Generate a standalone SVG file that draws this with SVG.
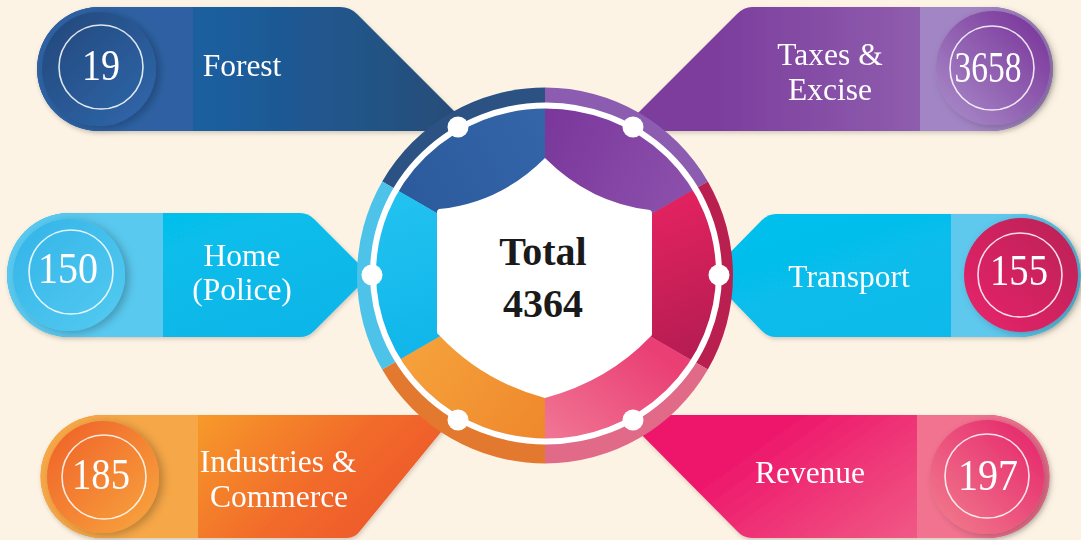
<svg xmlns="http://www.w3.org/2000/svg" width="1081" height="540" viewBox="0 0 1081 540">
<style>
.lbl{font-family:"Liberation Serif","Times New Roman",serif;font-size:31.5px;fill:#ffffff;text-anchor:middle}
.num{font-family:"Liberation Serif","Times New Roman",serif;font-size:44px;fill:#ffffff;text-anchor:middle}
.tot{font-family:"Liberation Serif","Times New Roman",serif;font-size:40px;font-weight:bold;fill:#1a1a1a;text-anchor:middle}
.ring{fill:none;stroke:#ffffff;stroke-width:1.6;opacity:0.85}
.dot{fill:#ffffff}
</style>
<defs>
<filter id="sh" x="-20%" y="-20%" width="140%" height="150%"><feDropShadow dx="1" dy="2" stdDeviation="2" flood-color="#000" flood-opacity="0.18"/></filter>
<filter id="bsh" x="-30%" y="-30%" width="160%" height="160%"><feDropShadow dx="4" dy="2" stdDeviation="4" flood-color="#000" flood-opacity="0.25"/></filter>
<linearGradient id="gF" x1="0" y1="0" x2="1" y2="0"><stop offset="0.4" stop-color="#1c5e9f"/><stop offset="1" stop-color="#274c75"/></linearGradient>
<linearGradient id="bF" x1="0" y1="0" x2="1" y2="1"><stop offset="0" stop-color="#22477a"/><stop offset="1" stop-color="#3068ad"/></linearGradient>
<linearGradient id="gH" x1="0" y1="0" x2="1" y2="1"><stop offset="0" stop-color="#04c3ec"/><stop offset="1" stop-color="#0cb4e8"/></linearGradient>
<linearGradient id="bH" x1="0" y1="0" x2="1" y2="1"><stop offset="0" stop-color="#32b4e8"/><stop offset="1" stop-color="#55cbf1"/></linearGradient>
<linearGradient id="gT" x1="0" y1="0" x2="1" y2="0"><stop offset="0.2" stop-color="#7b3c9c"/><stop offset="1" stop-color="#9b72b9"/></linearGradient>
<linearGradient id="bT" x1="1" y1="0" x2="0" y2="1"><stop offset="0" stop-color="#762f96"/><stop offset="1" stop-color="#ab8fcb"/></linearGradient>
<linearGradient id="gR" x1="0" y1="0" x2="1" y2="1"><stop offset="0" stop-color="#04c0ec"/><stop offset="1" stop-color="#0bb8ea"/></linearGradient>
<linearGradient id="bR" x1="1" y1="0" x2="0" y2="1"><stop offset="0" stop-color="#b91f55"/><stop offset="1" stop-color="#e8266b"/></linearGradient>
<linearGradient id="gI" x1="0" y1="0" x2="1" y2="0.3"><stop offset="0.3" stop-color="#f7a02a"/><stop offset="0.75" stop-color="#f26b2b"/><stop offset="1" stop-color="#ee5a2c"/></linearGradient>
<linearGradient id="bI" x1="0" y1="0" x2="1" y2="1"><stop offset="0" stop-color="#ef5f28"/><stop offset="1" stop-color="#f8a73e"/></linearGradient>
<linearGradient id="gV" x1="0" y1="0" x2="1" y2="0.4"><stop offset="0.35" stop-color="#ee176b"/><stop offset="1" stop-color="#f06088"/></linearGradient>
<linearGradient id="bV" x1="1" y1="0" x2="0" y2="1"><stop offset="0" stop-color="#e4216a"/><stop offset="1" stop-color="#f2808e"/></linearGradient>
<linearGradient id="iBlue" gradientUnits="userSpaceOnUse" x1="390" y1="200" x2="545" y2="120"><stop offset="0" stop-color="#2a5a9c"/><stop offset="1" stop-color="#3465a8"/></linearGradient>
<linearGradient id="iPur" gradientUnits="userSpaceOnUse" x1="545" y1="120" x2="700" y2="200"><stop offset="0" stop-color="#7b379b"/><stop offset="1" stop-color="#8d52ad"/></linearGradient>
<linearGradient id="iCri" gradientUnits="userSpaceOnUse" x1="655" y1="215" x2="715" y2="355"><stop offset="0" stop-color="#e0225f"/><stop offset="1" stop-color="#b31c51"/></linearGradient>
<linearGradient id="iPink" gradientUnits="userSpaceOnUse" x1="640" y1="340" x2="560" y2="440"><stop offset="0" stop-color="#ea3f75"/><stop offset="1" stop-color="#f07392"/></linearGradient>
<linearGradient id="iOr" gradientUnits="userSpaceOnUse" x1="420" y1="350" x2="540" y2="440"><stop offset="0" stop-color="#f5a03a"/><stop offset="1" stop-color="#ef882c"/></linearGradient>
<linearGradient id="iCy" gradientUnits="userSpaceOnUse" x1="380" y1="200" x2="430" y2="350"><stop offset="0" stop-color="#22c2f0"/><stop offset="1" stop-color="#10b6ea"/></linearGradient>
<clipPath id="inner"><ellipse cx="546" cy="273.5" rx="170" ry="165"/></clipPath>
</defs>
<rect x="0" y="0" width="1081" height="540" fill="#fdf3e4"/>

<g id="node-forest" filter="url(#sh)">
<path d="M99,7 H340 Q350,7 357,14 L474,131 H99 A62,62 0 0 1 99,7 Z" fill="url(#gF)"/>
<path d="M193,7 H99 A62,62 0 0 0 99,131 H193 Z" fill="#2e61a3"/>
<circle cx="99" cy="69" r="57" fill="url(#bF)" filter="url(#bsh)"/>
<circle class="ring" cx="101" cy="67" r="42"/>
<text class="num" x="101" y="80" textLength="38" lengthAdjust="spacingAndGlyphs">19</text>
<text class="lbl" x="242" y="76">Forest</text>
</g>

<g id="node-home" filter="url(#sh)">
<path d="M69,213 H300 Q308,213 314,219 L370,275 L314,331 Q308,337 300,337 H69 A62,62 0 0 1 69,213 Z" fill="url(#gH)"/>
<path d="M163,213 H69 A62,62 0 0 0 69,337 H163 Z" fill="#5ac9ef"/>
<circle cx="69" cy="275" r="56" fill="url(#bH)" filter="url(#bsh)"/>
<circle class="ring" cx="71" cy="272" r="42"/>
<text class="num" x="68" y="283" textLength="60" lengthAdjust="spacingAndGlyphs">150</text>
<text class="lbl" x="242" y="266">Home</text>
<text class="lbl" x="242" y="300">(Police)</text>
</g>

<g id="node-taxes" filter="url(#sh)">
<path d="M991,7 H752 Q744,7 737,14 L620,131 H991 A62,62 0 0 0 991,7 Z" fill="url(#gT)"/>
<path d="M920,7 H991 A62,62 0 0 1 991,131 H920 Z" fill="#a285c4"/>
<circle cx="993" cy="68" r="57" fill="url(#bT)" filter="url(#bsh)"/>
<circle class="ring" cx="992" cy="68" r="42"/>
<text class="num" x="988" y="82" textLength="67" lengthAdjust="spacingAndGlyphs">3658</text>
<text class="lbl" x="830" y="65">Taxes &amp;</text>
<text class="lbl" x="830" y="100">Excise</text>
</g>

<g id="node-transport" filter="url(#sh)">
<path d="M1019,214 H776 Q768,214 762,220 L708,275 L762,331 Q768,337 776,337 H1019 A61.5,61.5 0 0 0 1019,214 Z" fill="url(#gR)"/>
<path d="M951,214 H1019 A61.5,61.5 0 0 1 1019,337 H951 Z" fill="#5ec8ed"/>
<circle cx="1021" cy="275" r="57" fill="url(#bR)" filter="url(#bsh)"/>
<circle class="ring" cx="1020" cy="275" r="42"/>
<text class="num" x="1019" y="285" textLength="58" lengthAdjust="spacingAndGlyphs">155</text>
<text class="lbl" x="849" y="287">Transport</text>
</g>

<g id="node-industries" filter="url(#sh)">
<path d="M102,415 H455 L360,531 Q355,538 347,538 H102 A61.5,61.5 0 0 1 102,415 Z" fill="url(#gI)"/>
<path d="M198,415 H102 A61.5,61.5 0 0 0 102,538 H198 Z" fill="#f6a747"/>
<circle cx="103" cy="477" r="56" fill="url(#bI)" filter="url(#bsh)"/>
<circle class="ring" cx="104" cy="477" r="42"/>
<text class="num" x="101" y="489" textLength="58" lengthAdjust="spacingAndGlyphs">185</text>
<text class="lbl" x="278" y="472">Industries &amp;</text>
<text class="lbl" x="279" y="507">Commerce</text>
</g>

<g id="node-revenue" filter="url(#sh)">
<path d="M988,415 H622 L737,531 Q743,538 752,538 H988 A61.5,61.5 0 0 0 988,415 Z" fill="url(#gV)"/>
<path d="M917,415 H988 A61.5,61.5 0 0 1 988,538 H917 Z" fill="#f27390"/>
<circle cx="987" cy="477" r="57" fill="url(#bV)" filter="url(#bsh)"/>
<circle class="ring" cx="987" cy="476" r="42"/>
<text class="num" x="988" y="490" textLength="60" lengthAdjust="spacingAndGlyphs">197</text>
<text class="lbl" x="810" y="483">Revenue</text>
</g>

<g id="node-total">
<g id="outer-ring">
<path d="M545,275.5 L382.2,181.5 A188,188 0 0 1 545,87.5 Z" fill="#2b5283"/>
<path d="M545,275.5 L545,87.5 A188,188 0 0 1 707.8,181.5 Z" fill="#8c5cb1"/>
<path d="M545,275.5 L707.8,181.5 A188,188 0 0 1 707.8,369.5 Z" fill="#b9204f"/>
<path d="M545,275.5 L707.8,369.5 A188,188 0 0 1 545,463.5 Z" fill="#e06a88"/>
<path d="M545,275.5 L545,463.5 A188,188 0 0 1 382.2,369.5 Z" fill="#e2792f"/>
<path d="M545,275.5 L382.2,369.5 A188,188 0 0 1 382.2,181.5 Z" fill="#4ec3ea"/>
</g>
<g id="inner-ring" clip-path="url(#inner)">
<path d="M545,275.5 L382.2,181.5 A188,188 0 0 1 545,87.5 Z" fill="url(#iBlue)"/>
<path d="M545,275.5 L545,87.5 A188,188 0 0 1 707.8,181.5 Z" fill="url(#iPur)"/>
<path d="M545,275.5 L707.8,181.5 A188,188 0 0 1 707.8,369.5 Z" fill="url(#iCri)"/>
<path d="M545,275.5 L707.8,369.5 A188,188 0 0 1 545,463.5 Z" fill="url(#iPink)"/>
<path d="M545,275.5 L545,463.5 A188,188 0 0 1 382.2,369.5 Z" fill="url(#iOr)"/>
<path d="M545,275.5 L382.2,369.5 A188,188 0 0 1 382.2,181.5 Z" fill="url(#iCy)"/>
</g>
<ellipse cx="546" cy="273.5" rx="173" ry="168" fill="none" stroke="#ffffff" stroke-width="6"/>
<path d="M437,212 Q437,210 439,209 Q500,203 545,158 Q590,203 650,210 Q652,211 652,213 V334 Q652,336 650,337 Q608,381 545,398 Q482,381 439,335 Q437,334 437,332 Z" fill="#ffffff"/>
<text class="tot" x="543" y="265">Total</text>
<text class="tot" x="543" y="317">4364</text>
</g>

<g id="connectors">
<circle class="dot" cx="458" cy="127" r="10.5"/>
<circle class="dot" cx="633" cy="127" r="10.5"/>
<circle class="dot" cx="372" cy="275" r="10.5"/>
<circle class="dot" cx="719" cy="275" r="10.5"/>
<circle class="dot" cx="458" cy="420" r="10.5"/>
<circle class="dot" cx="633" cy="420" r="10.5"/>
</g>
</svg>
